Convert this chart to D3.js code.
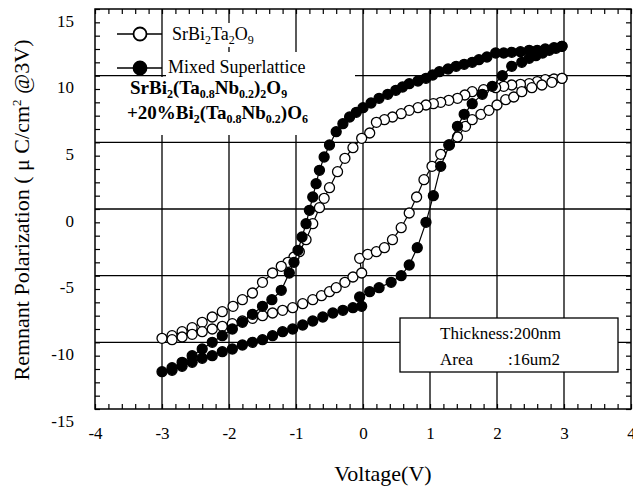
<!DOCTYPE html>
<html>
<head>
<meta charset="utf-8">
<script src="https://cdn.jsdelivr.net/npm/d3@7"></script>
<style>
  body { margin: 0; background: #fff; }
  text { font-family: "Liberation Serif", "Times New Roman", serif; fill: #000; }
</style>
</head>
<body>
<script>
// SrBi2Ta2O9 loop (open circles), upper branch then lower branch
var sbtVoltage = [2.97,2.85,2.72,2.6,2.48,2.35,2.22,2.1,1.98,1.8,1.63,1.52,1.41,1.28,1.16,1.05,0.94,0.82,0.69,0.57,0.44,0.32,0.2,0.1,-0.02,-0.15,-0.27,-0.38,-0.5,-0.58,-0.65,-0.75,-0.85,-0.95,-1.03,-1.12,-1.22,-1.35,-1.5,-1.65,-1.8,-1.94,-2.1,-2.25,-2.4,-2.55,-2.7,-2.85,-3.0,
  -2.85,-2.7,-2.55,-2.4,-2.25,-2.1,-1.95,-1.8,-1.65,-1.5,-1.35,-1.2,-1.05,-0.9,-0.75,-0.62,-0.5,-0.4,-0.27,-0.15,-0.02,-0.05,0.07,0.2,0.32,0.44,0.57,0.69,0.8,0.91,1.03,1.16,1.28,1.41,1.53,1.63,1.76,1.88,2.0,2.13,2.25,2.37,2.52,2.67,2.82,2.97];
var sbtPolarization = [9.8,9.75,9.7,9.55,9.4,9.35,9.3,9.2,9.1,8.95,8.8,8.55,8.3,8.15,8.0,7.9,7.8,7.6,7.4,7.15,6.9,6.7,6.5,5.7,5.3,4.6,3.8,2.8,1.6,0.8,0.1,-1.1,-2.3,-3.2,-3.6,-4.0,-4.3,-4.8,-5.5,-6.3,-6.8,-7.3,-7.7,-8.1,-8.5,-8.9,-9.2,-9.5,-9.7,
  -9.8,-9.6,-9.4,-9.2,-9.0,-8.8,-8.6,-8.4,-8.2,-8.0,-7.8,-7.6,-7.4,-7.1,-6.8,-6.5,-6.2,-5.9,-5.5,-5.1,-4.8,-3.7,-3.4,-3.2,-2.9,-2.3,-1.4,-0.3,0.9,2.2,3.2,4.1,4.8,5.4,6.2,6.7,7.1,7.4,7.8,8.2,8.4,8.8,9.1,9.3,9.5,9.8];

// Mixed superlattice loop (filled circles)
var mixedVoltage = [2.97,2.85,2.72,2.6,2.48,2.35,2.22,2.1,1.98,1.85,1.73,1.63,1.51,1.39,1.27,1.14,1.04,0.94,0.82,0.69,0.59,0.49,0.37,0.24,0.12,0,-0.1,-0.2,-0.3,-0.4,-0.5,-0.58,-0.65,-0.7,-0.75,-0.8,-0.85,-0.91,-0.97,-1.03,-1.1,-1.22,-1.36,-1.5,-1.65,-1.8,-1.95,-2.1,-2.25,-2.4,-2.55,-2.7,-2.85,-3.0,
  -2.85,-2.7,-2.55,-2.4,-2.25,-2.1,-1.95,-1.8,-1.65,-1.5,-1.35,-1.2,-1.05,-0.9,-0.75,-0.6,-0.45,-0.3,-0.15,-0.02,-0.05,0.1,0.24,0.42,0.57,0.69,0.81,0.94,1.05,1.16,1.29,1.41,1.51,1.63,1.78,1.93,2.08,2.22,2.37,2.48,2.58,2.68,2.78,2.88,2.97];
var mixedPolarization = [12.2,12.1,12.0,11.9,11.9,11.8,11.75,11.7,11.7,11.4,11.2,11.0,10.85,10.7,10.5,10.3,10.05,9.8,9.6,9.4,9.15,8.9,8.6,8.3,7.95,7.6,7.25,6.9,6.4,5.8,4.8,3.9,2.9,1.9,0.9,-0.1,-1.1,-2.1,-3.1,-4.0,-4.8,-6.1,-6.8,-7.3,-7.9,-8.5,-9.0,-9.5,-10.0,-10.5,-11.0,-11.5,-11.9,-12.2,
  -12.1,-11.8,-11.5,-11.2,-11.0,-10.7,-10.5,-10.2,-10.0,-9.8,-9.5,-9.2,-9.0,-8.7,-8.4,-8.1,-7.8,-7.6,-7.4,-7.3,-6.6,-6.2,-5.9,-5.5,-5.0,-4.2,-2.9,-1.0,1.0,3.2,4.8,6.2,7.1,7.9,8.6,9.2,10.0,10.7,11.0,11.3,11.5,11.7,11.9,12.05,12.2];

var xTicks = [-4,-3,-2,-1,0,1,2,3,4];
var yTicks = [-15,-10,-5,0,5,10,15];
var xGrid = [-3,-2,-1,0,1,2,3];
var yGrid = [-10,-5,0,5,10];

var width = 633, height = 487;
var plotL = 95, plotR = 631, plotT = 9, plotB = 409;

var x = d3.scaleLinear().domain([-4, 4]).range([plotL, plotR]);
var y = d3.scaleLinear().domain([-15, 15]).range([plotB, plotT]);

var svg = d3.select("body").append("svg")
    .attr("width", width)
    .attr("height", height);

// grid
svg.selectAll("line.vg").data(xGrid).enter().append("line")
    .attr("x1", function(d) { return x(d); }).attr("x2", function(d) { return x(d); })
    .attr("y1", plotT).attr("y2", plotB)
    .attr("stroke", "#000").attr("stroke-width", 1.3);
svg.selectAll("line.hg").data(yGrid).enter().append("line")
    .attr("y1", function(d) { return y(d); }).attr("y2", function(d) { return y(d); })
    .attr("x1", plotL).attr("x2", plotR)
    .attr("stroke", "#000").attr("stroke-width", 1.3);

// minor ticks, pointing inward on all four sides
function ticks(axis, tr) {
  svg.append("g").attr("transform", tr).call(axis)
    .call(function(g) { g.select(".domain").remove(); })
    .selectAll("line").attr("stroke", "#000").attr("stroke-width", 1.2);
}
var xMinor = d3.range(-40, 41, 2).map(function(d) { return d / 10; });
var yMinor = d3.range(-15, 16, 1);
ticks(d3.axisBottom(x).tickValues(xMinor).tickSize(-5).tickFormat(""), "translate(0," + plotB + ")");
ticks(d3.axisTop(x).tickValues(xMinor).tickSize(-5).tickFormat(""), "translate(0," + plotT + ")");
ticks(d3.axisLeft(y).tickValues(yMinor).tickSize(-5).tickFormat(""), "translate(" + plotL + ",0)");
ticks(d3.axisRight(y).tickValues(yMinor).tickSize(-5).tickFormat(""), "translate(" + plotR + ",0)");

// frame
svg.append("rect")
    .attr("x", plotL).attr("y", plotT)
    .attr("width", plotR - plotL).attr("height", plotB - plotT)
    .attr("fill", "none").attr("stroke", "#000").attr("stroke-width", 1.5);

// tick labels (plain hyphen minus, as in the reference)
var fmt = function(d) { return String(d); };
var xl = svg.append("g").attr("transform", "translate(0," + plotB + ")")
    .call(d3.axisBottom(x).tickValues(xTicks).tickSize(0).tickPadding(18).tickFormat(fmt));
xl.select(".domain").remove();
xl.selectAll("text").style("font-size", "17px").style("font-family", "Liberation Serif");

var yl = svg.append("g").attr("transform", "translate(" + plotL + ",0)")
    .call(d3.axisLeft(y).tickValues(yTicks).tickSize(0).tickPadding(21).tickFormat(fmt));
yl.select(".domain").remove();
yl.selectAll("text").attr("dy", "1em").style("font-size", "17px").style("font-family", "Liberation Serif");

// white backgrounds of legend and annotation text
svg.append("rect").attr("x", 170).attr("y", 23).attr("width", 76).attr("height", 24).attr("fill", "#fff");
svg.append("rect").attr("x", 166).attr("y", 52).attr("width", 189).attr("height", 27).attr("fill", "#fff");
svg.append("rect").attr("x", 125).attr("y", 77).attr("width", 230).attr("height", 58).attr("fill", "#fff");

// info box
svg.append("rect").attr("x", 400).attr("y", 318).attr("width", 218).attr("height", 54)
    .attr("fill", "#fff").attr("stroke", "#000").attr("stroke-width", 1.3);
svg.append("text").attr("x", 440).attr("y", 339).style("font-size", "17px").text("Thickness:200nm");
svg.append("text").attr("x", 440).attr("y", 365).style("font-size", "17px").text("Area");
svg.append("text").attr("x", 508).attr("y", 365).style("font-size", "17px").text(":16um2");

// series
var sbt = sbtVoltage.map(function(v, i) { return [v, sbtPolarization[i]]; });
var mixed = mixedVoltage.map(function(v, i) { return [v, mixedPolarization[i]]; });
var line = d3.line().x(function(d) { return x(d[0]); }).y(function(d) { return y(d[1]); });

function series(data, fill) {
  svg.append("path").datum(data).attr("d", line)
      .attr("fill", "none").attr("stroke", "#000").attr("stroke-width", 1.2);
  svg.append("g").selectAll("circle").data(data).enter().append("circle")
      .attr("cx", function(d) { return x(d[0]); })
      .attr("cy", function(d) { return y(d[1]); })
      .attr("r", 5)
      .attr("fill", fill).attr("stroke", "#000").attr("stroke-width", 1.3);
}
series(sbt, "#fff");
series(mixed, "#000");

// legend
var legend = [{ y: 34, fill: "#fff" }, { y: 68, fill: "#000" }];
legend.forEach(function(d) {
  svg.append("line").attr("x1", 117).attr("x2", 162).attr("y1", d.y).attr("y2", d.y)
      .attr("stroke", "#000").attr("stroke-width", 1.3);
  svg.append("circle").attr("cx", 140).attr("cy", d.y).attr("r", 6.5)
      .attr("fill", d.fill).attr("stroke", "#000").attr("stroke-width", 1.8);
});
var t1 = svg.append("text").attr("x", 172).attr("y", 40).style("font-size", "18px");
t1.append("tspan").text("SrBi");
t1.append("tspan").attr("dy", 4).style("font-size", "12px").text("2");
t1.append("tspan").attr("dy", -4).text("Ta");
t1.append("tspan").attr("dy", 4).style("font-size", "12px").text("2");
t1.append("tspan").attr("dy", -4).text("O");
t1.append("tspan").attr("dy", 4).style("font-size", "12px").text("9");
svg.append("text").attr("x", 168).attr("y", 73).style("font-size", "18px").text("Mixed Superlattice");

// composition annotation (bold, with subscripts)
function rich(xp, yp, parts) {
  var t = svg.append("text").attr("x", xp).attr("y", yp)
      .style("font-size", "19px").style("font-weight", "bold");
  var sub = false;
  parts.forEach(function(p) {
    var isSub = p.charAt(0) === "_";
    var s = t.append("tspan").text(isSub ? p.slice(1) : p);
    if (isSub && !sub) s.attr("dy", 4);
    if (!isSub && sub) s.attr("dy", -4);
    if (isSub) s.style("font-size", "12px");
    sub = isSub;
  });
}
rich(130, 94, ["SrBi", "_2", "(Ta", "_0.8", "Nb", "_0.2", ")", "_2", "O", "_9"]);
rich(127, 119, ["+20%Bi", "_2", "(Ta", "_0.8", "Nb", "_0.2", ")O", "_6"]);

// axis titles
svg.append("text").attr("x", 383).attr("y", 481).attr("text-anchor", "middle")
    .style("font-size", "22px").text("Voltage(V)");
var yt = svg.append("text").attr("transform", "translate(29,210) rotate(-90)")
    .attr("text-anchor", "middle").style("font-size", "22px");
yt.append("tspan").text("Remnant Polarization ( \u03bc C/cm");
yt.append("tspan").attr("dy", -8).style("font-size", "13px").text("2");
yt.append("tspan").attr("dy", 8).text(" @3V)");
</script>
</body>
</html>
